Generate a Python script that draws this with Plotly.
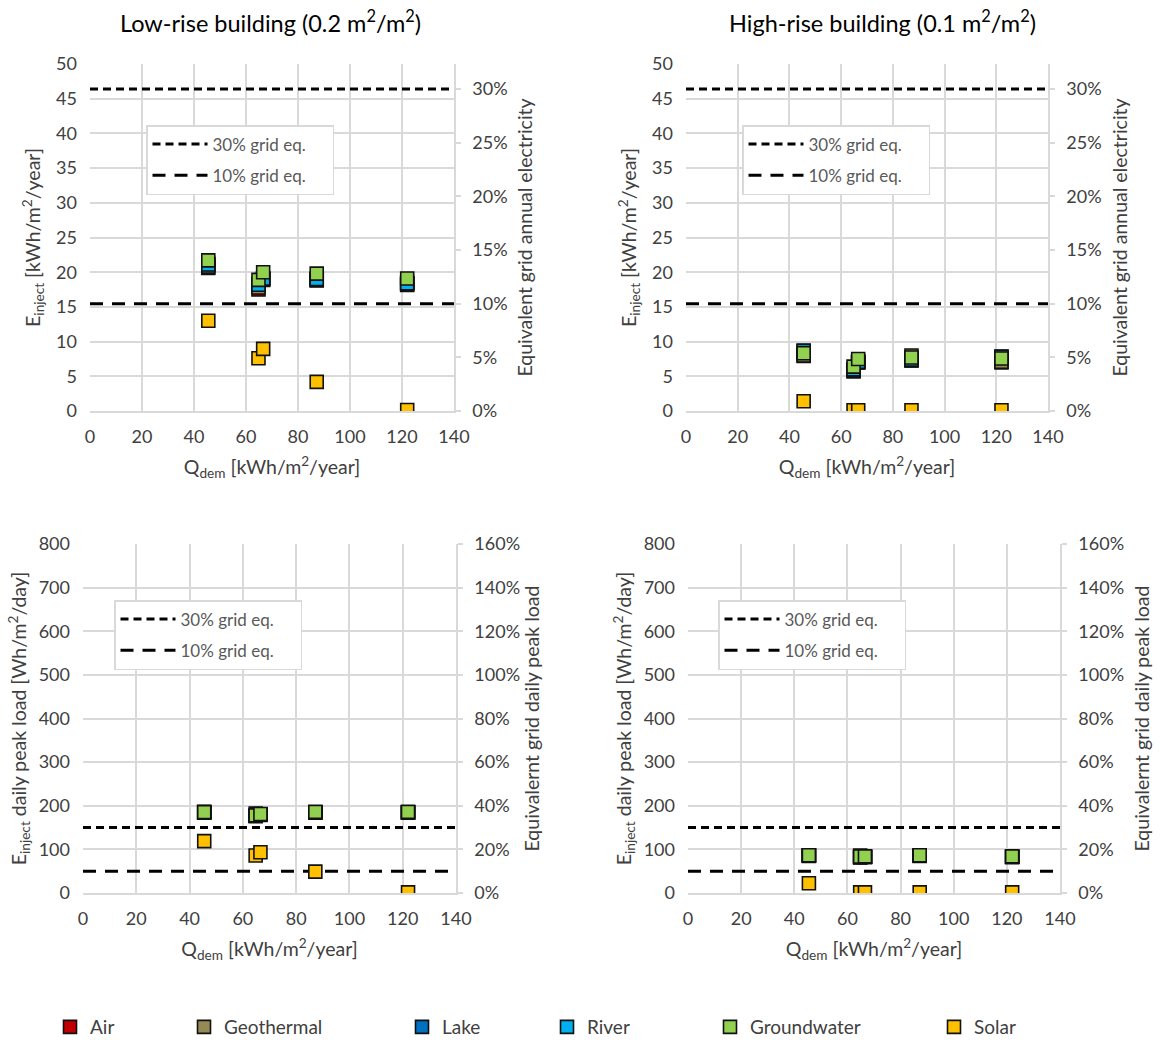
import plotly.graph_objects as go

W, H = 1161, 1043

# ---------------- data ----------------
SERIES = ["Air", "Geothermal", "Lake", "River", "Groundwater", "Solar"]
COLORS = ["#C00000", "#948A54", "#0070C0", "#00B0F0", "#92D050", "#FFC000"]

q_dem = [45.5, 64.8, 66.6, 87.2, 122.0]

# Low-rise, annual injection [kWh/m2/year]
low_annual_air = [20.6, 17.5, 18.9, 18.8, 18.15]
low_annual_geothermal = [20.8, 17.8, 19.0, 18.9, 18.3]
low_annual_lake = [21.2, 18.3, 19.1, 19.1, 18.5]
low_annual_river = [21.1, 18.2, 19.1, 19.0, 18.4]
low_annual_groundwater = [21.7, 18.9, 20.0, 19.8, 19.1]
low_annual_solar = [13.0, 7.6, 8.95, 4.2, 0.15]

# High-rise, annual injection [kWh/m2/year]
high_annual_air = [7.95, 5.7, 7.0, 7.3, 7.0]
high_annual_geothermal = [8.0, 5.8, 7.0, 8.0, 7.1]
high_annual_lake = [8.7, 6.0, 7.1, 7.3, 7.85]
high_annual_river = [8.65, 6.0, 7.1, 7.4, 7.8]
high_annual_groundwater = [8.33, 6.4, 7.5, 7.7, 7.57]
high_annual_solar = [1.4, 0.1, 0.1, 0.1, 0.1]

# Low-rise, daily peak load [Wh/m2/day]
low_peak_air = [184, 176, 179, 184, 184]
low_peak_geothermal = [186, 182, 180, 185, 185]
low_peak_lake = [185, 177, 180, 185, 185]
low_peak_river = [185, 177, 180, 185, 185]
low_peak_groundwater = [185.5, 178, 181, 186, 186]
low_peak_solar = [119, 86, 93.5, 49, 1.5]

# High-rise, daily peak load [Wh/m2/day]
high_peak_air = [85, 82, 82, 85, 82]
high_peak_geothermal = [86, 86, 83, 86, 83]
high_peak_lake = [86, 82, 83, 86, 83]
high_peak_river = [86, 82, 83, 86, 83]
high_peak_groundwater = [86.6, 83.5, 84, 86.6, 84]
high_peak_solar = [22.3, 1.5, 1.5, 1.5, 1.5]

# grid-equivalent reference levels
annual_grid_30 = 46.4
annual_grid_10 = 15.47
peak_grid_30 = 150
peak_grid_10 = 50

x_range = [0, 140]
annual_range = [0, 50]
peak_range = [0, 800]

PANELS = [
    dict(data=[low_annual_air, low_annual_geothermal, low_annual_lake,
               low_annual_river, low_annual_groundwater, low_annual_solar],
         g30=annual_grid_30, g10=annual_grid_10, yr=annual_range, ydt=5,
         pct_max=annual_range[1] / annual_grid_10 * 0.10, pct_dt=0.05),
    dict(data=[high_annual_air, high_annual_geothermal, high_annual_lake,
               high_annual_river, high_annual_groundwater, high_annual_solar],
         g30=annual_grid_30, g10=annual_grid_10, yr=annual_range, ydt=5,
         pct_max=annual_range[1] / annual_grid_10 * 0.10, pct_dt=0.05),
    dict(data=[low_peak_air, low_peak_geothermal, low_peak_lake,
               low_peak_river, low_peak_groundwater, low_peak_solar],
         g30=peak_grid_30, g10=peak_grid_10, yr=peak_range, ydt=100,
         pct_max=peak_range[1] / peak_grid_10 * 0.10, pct_dt=0.20),
    dict(data=[high_peak_air, high_peak_geothermal, high_peak_lake,
               high_peak_river, high_peak_groundwater, high_peak_solar],
         g30=peak_grid_30, g10=peak_grid_10, yr=peak_range, ydt=100,
         pct_max=peak_range[1] / peak_grid_10 * 0.10, pct_dt=0.20),
]

# ---------------- layout geometry (pixels) ----------------
BOXES = [(90, 454, 64, 411), (686, 1048, 64, 411), (83, 456, 544, 893), (688, 1060, 544, 893)]
INNER_LEG = [(146, 125), (742, 125), (114, 600), (718, 600)]
Y_STANDOFF = [10, 10, 6, 6]
Y2_STANDOFF = [12, 13, 2, 12]

FONT = "Lato, 'Open Sans', sans-serif"
TICK_COL = "#404040"
GRID = "#D9D9D9"


def px(x):
    return x / W


def py(y):
    return 1 - y / H


fig = go.Figure()
layout = dict(
    width=W, height=H, margin=dict(l=0, r=0, t=0, b=0, autoexpand=False),
    paper_bgcolor="white", plot_bgcolor="white",
    font=dict(family=FONT, size=18, color=TICK_COL),
    showlegend=True,
)

y_titles = [
    "E<sub>inject</sub> [kWh/m<sup>2</sup>/year]",
    "E<sub>inject</sub> [kWh/m<sup>2</sup>/year]",
    "E<sub>inject</sub> daily peak load [Wh/m<sup>2</sup>/day]",
    "E<sub>inject</sub> daily peak load [Wh/m<sup>2</sup>/day]",
]
y2_titles = [
    "Equivalent grid annual electricity",
    "Equivalent grid annual electricity",
    "Equivalernt grid daily peak load",
    "Equivalernt grid daily peak load",
]
PAD = "\u00a0" * 5

for i, p in enumerate(PANELS):
    k = i + 1
    xa = "x" if k == 1 else f"x{k}"
    ya = "y" if k == 1 else f"y{k}"
    ya2 = f"y{k + 4}"
    L, R, T, B = BOXES[i]
    leg_in = "legend" if k == 1 else f"legend{k}"

    # reference lines (short dash = 30 %, long dash = 10 %)
    fig.add_trace(go.Scatter(x=x_range, y=[p["g30"], p["g30"]], mode="lines", xaxis=xa, yaxis=ya,
                             line=dict(color="black", width=3, dash="8px,5px"),
                             name="30% grid eq." + PAD, legend=leg_in, legendgroup=f"g30_{k}",
                             hoverinfo="skip"))
    fig.add_trace(go.Scatter(x=x_range, y=[p["g10"], p["g10"]], mode="lines", xaxis=xa, yaxis=ya,
                             line=dict(color="black", width=3, dash="13px,9px"),
                             name="10% grid eq." + PAD, legend=leg_in, legendgroup=f"g10_{k}",
                             hoverinfo="skip"))

    for j, (s, c) in enumerate(zip(SERIES, COLORS)):
        fig.add_trace(go.Scatter(
            x=q_dem, y=p["data"][j], mode="markers", xaxis=xa, yaxis=ya,
            marker=dict(symbol="square", size=13, color=c, line=dict(color="#111111", width=1.6)),
            name=s, showlegend=(k == 1), legend=f"legend{5 + j}",
        ))

    # invisible trace to activate the secondary (percentage) axis
    fig.add_trace(go.Scatter(x=[x_range[0]], y=[0], xaxis=xa, yaxis=ya2, mode="markers",
                             marker=dict(opacity=0), showlegend=False, hoverinfo="skip"))

    xkey = "xaxis" if k == 1 else f"xaxis{k}"
    ykey = "yaxis" if k == 1 else f"yaxis{k}"
    y2key = f"yaxis{k + 4}"

    layout[xkey] = dict(
        domain=[px(L), px(R)], anchor=ya, range=x_range, dtick=20, tick0=0,
        showgrid=True, gridcolor=GRID, gridwidth=1.5, zeroline=False,
        showline=True, linecolor=GRID, linewidth=1.5, mirror=False,
        ticks="", ticklabelstandoff=9, tickfont=dict(size=18, color=TICK_COL),
        automargin=False,
        title=dict(text="Q<sub>dem</sub> [kWh/m<sup>2</sup>/year]",
                   font=dict(size=19.5, color=TICK_COL), standoff=14),
    )
    layout[ykey] = dict(
        domain=[py(B), py(T)], anchor=xa, range=p["yr"], dtick=p["ydt"], tick0=0,
        showgrid=True, gridcolor=GRID, gridwidth=1.5, zeroline=False,
        showline=False, ticks="", ticklabelstandoff=12,
        tickfont=dict(size=18, color=TICK_COL), automargin=False,
        title=dict(text=y_titles[i], font=dict(size=19.5, color=TICK_COL), standoff=Y_STANDOFF[i]),
    )
    layout[y2key] = dict(
        overlaying=ya, side="right", anchor=xa, range=[0, p["pct_max"]],
        tickmode="linear", tick0=0, dtick=p["pct_dt"], tickformat=".0%",
        showgrid=False, zeroline=False,
        showline=True, linecolor=GRID, linewidth=1.5,
        ticks="outside", ticklen=5, tickcolor=GRID, tickwidth=1.5, ticklabelstandoff=8,
        tickfont=dict(size=18, color=TICK_COL), automargin=False,
        title=dict(text=y2_titles[i], font=dict(size=19.5, color=TICK_COL), standoff=Y2_STANDOFF[i]),
    )

    lx, ly = INNER_LEG[i]
    layout[leg_in] = dict(
        x=px(lx), y=py(ly), xanchor="left", yanchor="top",
        bgcolor="white", bordercolor=GRID, borderwidth=1.5,
        font=dict(size=17, color="#595959", family=FONT),
        tracegroupgap=6, itemwidth=55,
    )

# bottom legend: one legend per series, spaced as in the original
BOTTOM_TEXT_X = [88, 222, 440, 585, 748, 972]
for j, tx in enumerate(BOTTOM_TEXT_X):
    layout[f"legend{5 + j}"] = dict(
        x=px(tx - 38), y=py(1027), xanchor="left", yanchor="middle",
        bgcolor="rgba(0,0,0,0)", borderwidth=0, itemwidth=30,
        font=dict(size=19, color=TICK_COL, family=FONT),
    )

layout["annotations"] = [
    dict(text="Low-rise building (0.2 m<sup>2</sup>/m<sup>2</sup>)", x=px(270), y=py(22),
         xref="paper", yref="paper", showarrow=False, xanchor="center", yanchor="middle",
         font=dict(size=23.5, color="black", family=FONT)),
    dict(text="High-rise building (0.1 m<sup>2</sup>/m<sup>2</sup>)", x=px(882), y=py(22),
         xref="paper", yref="paper", showarrow=False, xanchor="center", yanchor="middle",
         font=dict(size=23.5, color="black", family=FONT)),
]

fig.update_layout(**layout)
fig.write_html("out.html")
